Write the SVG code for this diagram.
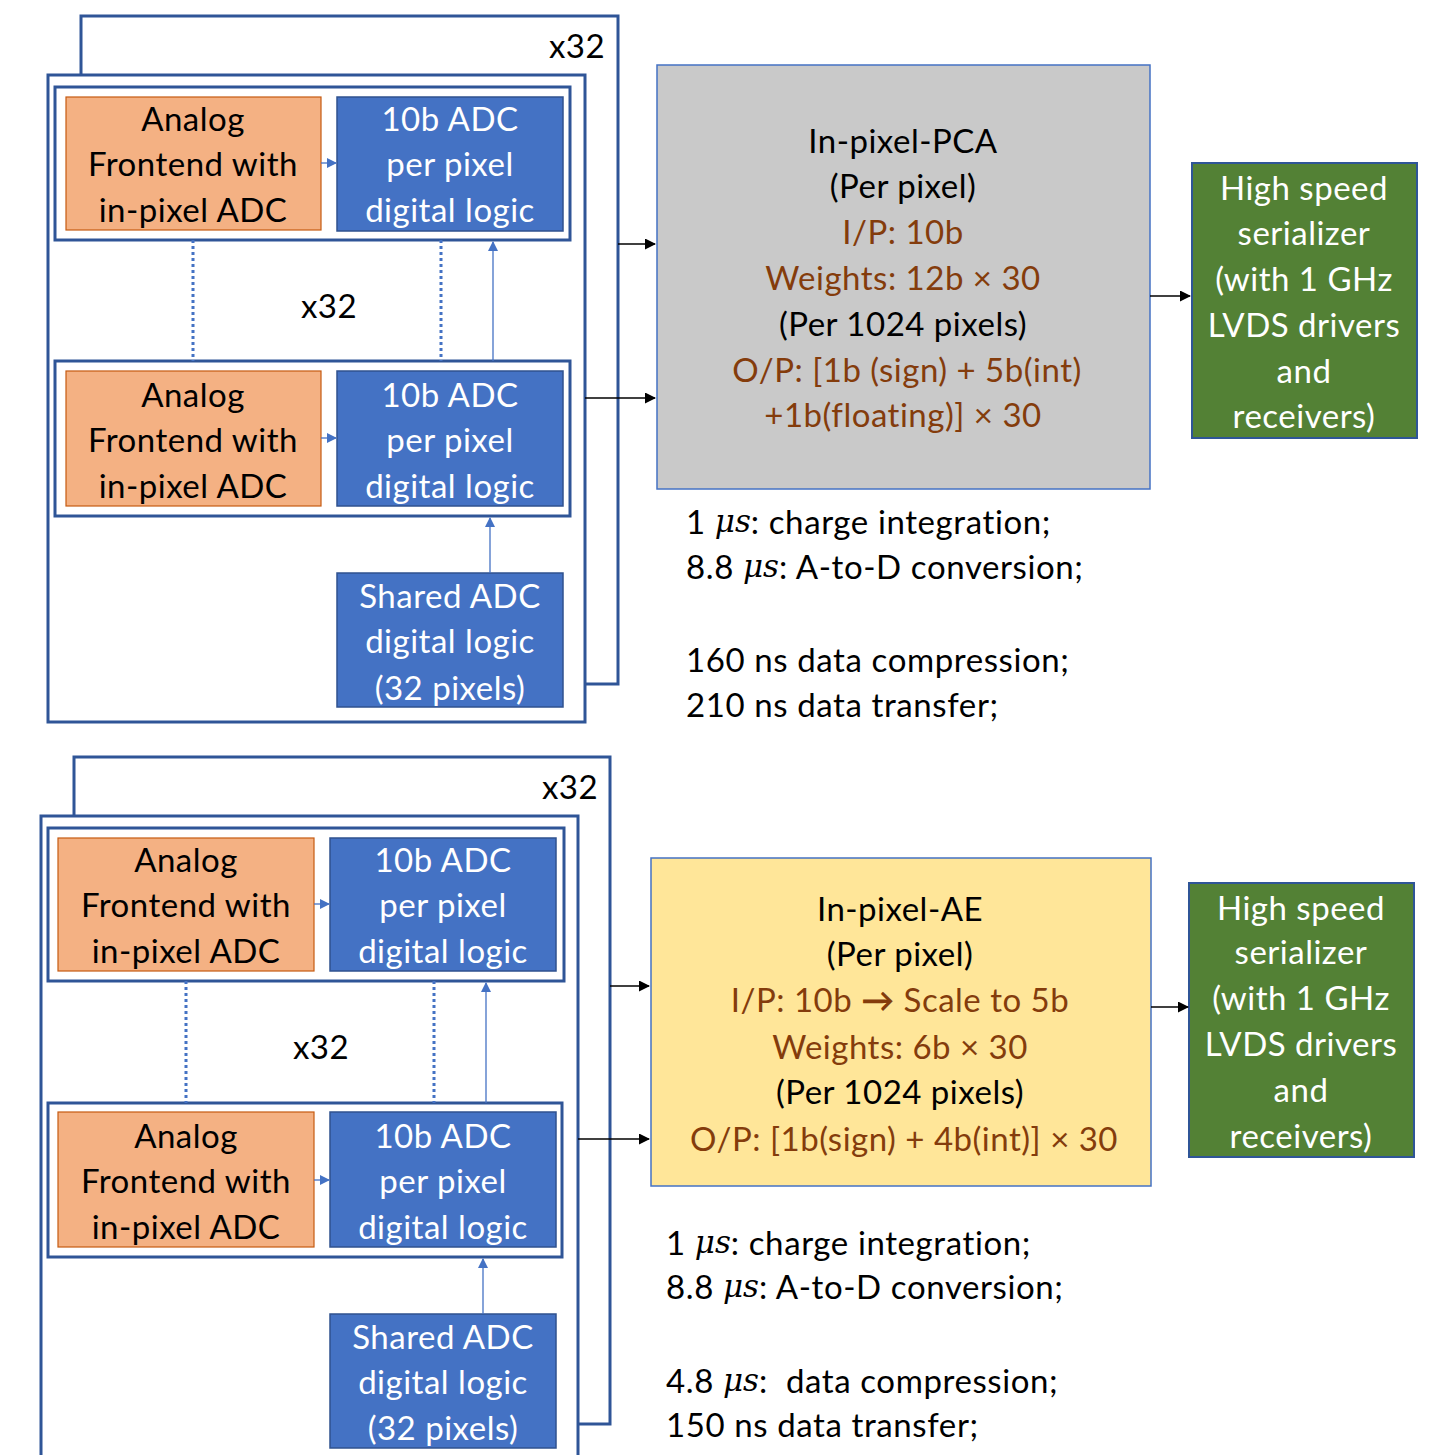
<svg xmlns="http://www.w3.org/2000/svg" width="1435" height="1455" viewBox="0 0 1435 1455">
  <defs>
    <style>
      text { font-family: Lato, "Open Sans", "Liberation Sans", sans-serif; font-size: 33px; letter-spacing: 0.5px; text-anchor: middle; dominant-baseline: central; }
      .frame { fill: #ffffff; stroke: #2f5597; stroke-width: 3; }
      .afe { fill: #f4b183; stroke: #c55a11; stroke-width: 1.2; }
      .dig { fill: #4472c4; stroke: #2f528f; stroke-width: 1.5; }
      .pca { fill: #c9c9c9; stroke: #4472c4; stroke-width: 1.5; }
      .ae { fill: #ffe699; stroke: #4472c4; stroke-width: 1.5; }
      .ser { fill: #538135; stroke: #2f5597; stroke-width: 2; }
      .dark { fill: #000000; }
      .light { fill: #ffffff; }
      .brown { fill: #843c0c; }
      .note { text-anchor: start; fill: #000000; letter-spacing: 0.6px; }
      .mu { font-family: "DejaVu Serif", "Liberation Serif", serif; font-style: italic; font-size: 31px; letter-spacing: 0; }
      .blk { stroke: #000000; stroke-width: 1.5; fill: none; }
      .blu { stroke: #4472c4; stroke-width: 1.3; fill: none; }
      .dot { stroke: #4472c4; stroke-width: 3; stroke-dasharray: 3 3; fill: none; }
    </style>
    <marker id="ahBlack" markerWidth="11" markerHeight="11" refX="10" refY="5.5" orient="auto" markerUnits="userSpaceOnUse">
      <path d="M0,0 L11,5.5 L0,11 z" fill="#000000"/>
    </marker>
    <marker id="ahBlue" markerWidth="10" markerHeight="10" refX="9" refY="5" orient="auto" markerUnits="userSpaceOnUse">
      <path d="M0,0 L10,5 L0,10 z" fill="#4472c4"/>
    </marker>
  </defs>

  <!-- ===== Upper design: PCA ===== -->
  <g id="pca-array-back">
    <rect class="frame" x="81" y="16" width="537" height="668"/>
    <text class="dark" x="577" y="45">x32</text>
  </g>
  <g id="pca-array-front">
    <rect class="frame" x="48" y="75" width="537" height="647"/>
    <text class="dark" x="329" y="305">x32</text>
  </g>
  <g id="pca-pixel-1">
    <rect class="frame" x="55" y="87" width="515" height="153"/>
  </g>
  <g id="pca-afe-1">
    <rect class="afe" x="66" y="97" width="255" height="133"/>
    <text class="dark" x="193" y="118">Analog</text>
    <text class="dark" x="193" y="163">Frontend with</text>
    <text class="dark" x="193" y="209">in-pixel ADC</text>
  </g>
  <g id="pca-dig-1">
    <rect class="dig" x="337" y="97" width="226" height="134"/>
    <text class="light" x="450" y="118">10b ADC</text>
    <text class="light" x="450" y="163">per pixel</text>
    <text class="light" x="450" y="209">digital logic</text>
  </g>
  <g id="pca-pixel-2">
    <rect class="frame" x="55" y="361" width="515" height="155"/>
  </g>
  <g id="pca-afe-2">
    <rect class="afe" x="66" y="371" width="255" height="135"/>
    <text class="dark" x="193" y="394">Analog</text>
    <text class="dark" x="193" y="439">Frontend with</text>
    <text class="dark" x="193" y="485">in-pixel ADC</text>
  </g>
  <g id="pca-dig-2">
    <rect class="dig" x="337" y="371" width="226" height="135"/>
    <text class="light" x="450" y="394">10b ADC</text>
    <text class="light" x="450" y="439">per pixel</text>
    <text class="light" x="450" y="485">digital logic</text>
  </g>
  <g id="pca-shared">
    <rect class="dig" x="337" y="573" width="226" height="134"/>
    <text class="light" x="450" y="595">Shared ADC</text>
    <text class="light" x="450" y="640">digital logic</text>
    <text class="light" x="450" y="687">(32 pixels)</text>
  </g>
  <g id="pca-core">
    <rect class="pca" x="657" y="65" width="493" height="424"/>
    <text class="dark" x="903" y="140">In-pixel-PCA</text>
    <text class="dark" x="903" y="185">(Per pixel)</text>
    <text class="brown" x="903" y="231">I/P: 10b</text>
    <text class="brown" x="903" y="277">Weights: 12b × 30</text>
    <text class="dark" x="903" y="323">(Per 1024 pixels)</text>
    <text class="brown" x="907" y="369">O/P: [1b (sign) + 5b(int)</text>
    <text class="brown" x="903" y="414">+1b(floating)] × 30</text>
  </g>
  <g id="pca-serializer">
    <rect class="ser" x="1192" y="163" width="225" height="275"/>
    <text class="light" x="1304" y="187">High speed</text>
    <text class="light" x="1304" y="232">serializer</text>
    <text class="light" x="1304" y="278">(with 1 GHz</text>
    <text class="light" x="1304" y="324">LVDS drivers</text>
    <text class="light" x="1304" y="370">and</text>
    <text class="light" x="1304" y="415">receivers)</text>
  </g>
  <g id="pca-timing">
    <text class="note" x="686" y="521">1 <tspan class="mu">μs</tspan>: charge integration;</text>
    <text class="note" x="686" y="566">8.8 <tspan class="mu">μs</tspan>: A-to-D conversion;</text>
    <text class="note" x="686" y="659">160 ns data compression;</text>
    <text class="note" x="686" y="704">210 ns data transfer;</text>
  </g>

  <!-- ===== Lower design: AE ===== -->
  <g id="ae-array-back">
    <rect class="frame" x="74" y="757" width="536" height="667"/>
    <text class="dark" x="570" y="786">x32</text>
  </g>
  <g id="ae-array-front">
    <rect class="frame" x="41" y="816" width="537" height="700"/>
    <text class="dark" x="321" y="1046">x32</text>
  </g>
  <g id="ae-pixel-1">
    <rect class="frame" x="48" y="828" width="516" height="153"/>
  </g>
  <g id="ae-afe-1">
    <rect class="afe" x="58" y="838" width="256" height="133"/>
    <text class="dark" x="186" y="859">Analog</text>
    <text class="dark" x="186" y="904">Frontend with</text>
    <text class="dark" x="186" y="950">in-pixel ADC</text>
  </g>
  <g id="ae-dig-1">
    <rect class="dig" x="330" y="838" width="226" height="133"/>
    <text class="light" x="443" y="859">10b ADC</text>
    <text class="light" x="443" y="904">per pixel</text>
    <text class="light" x="443" y="950">digital logic</text>
  </g>
  <g id="ae-pixel-2">
    <rect class="frame" x="48" y="1103" width="514" height="154"/>
  </g>
  <g id="ae-afe-2">
    <rect class="afe" x="58" y="1112" width="256" height="135"/>
    <text class="dark" x="186" y="1135">Analog</text>
    <text class="dark" x="186" y="1180">Frontend with</text>
    <text class="dark" x="186" y="1226">in-pixel ADC</text>
  </g>
  <g id="ae-dig-2">
    <rect class="dig" x="330" y="1112" width="226" height="135"/>
    <text class="light" x="443" y="1135">10b ADC</text>
    <text class="light" x="443" y="1180">per pixel</text>
    <text class="light" x="443" y="1226">digital logic</text>
  </g>
  <g id="ae-shared">
    <rect class="dig" x="330" y="1314" width="226" height="134"/>
    <text class="light" x="443" y="1336">Shared ADC</text>
    <text class="light" x="443" y="1381">digital logic</text>
    <text class="light" x="443" y="1427">(32 pixels)</text>
  </g>
  <g id="ae-core">
    <rect class="ae" x="651" y="858" width="500" height="328"/>
    <text class="dark" x="900" y="908">In-pixel-AE</text>
    <text class="dark" x="900" y="953">(Per pixel)</text>
    <text class="brown" x="900" y="999">I/P: 10b <tspan font-weight="bold">→</tspan> Scale to 5b</text>
    <text class="brown" x="900" y="1046">Weights: 6b × 30</text>
    <text class="dark" x="900" y="1091">(Per 1024 pixels)</text>
    <text class="brown" x="904" y="1138">O/P: [1b(sign) + 4b(int)] × 30</text>
  </g>
  <g id="ae-serializer">
    <rect class="ser" x="1189" y="883" width="225" height="274"/>
    <text class="light" x="1301" y="907">High speed</text>
    <text class="light" x="1301" y="951">serializer</text>
    <text class="light" x="1301" y="997">(with 1 GHz</text>
    <text class="light" x="1301" y="1043">LVDS drivers</text>
    <text class="light" x="1301" y="1089">and</text>
    <text class="light" x="1301" y="1135">receivers)</text>
  </g>
  <g id="ae-timing">
    <text class="note" x="666" y="1242">1 <tspan class="mu">μs</tspan>: charge integration;</text>
    <text class="note" x="666" y="1286">8.8 <tspan class="mu">μs</tspan>: A-to-D conversion;</text>
    <text class="note" x="666" y="1380">4.8 <tspan class="mu">μs</tspan>:&#160; data compression;</text>
    <text class="note" x="666" y="1424">150 ns data transfer;</text>
  </g>

  <!-- ===== Connectors ===== -->
  <g id="connectors">
    <!-- upper design -->
    <line class="blu" x1="321" y1="163" x2="336" y2="163" marker-end="url(#ahBlue)"/>
    <line class="blu" x1="321" y1="438" x2="336" y2="438" marker-end="url(#ahBlue)"/>
    <line class="dot" x1="193" y1="240" x2="193" y2="361"/>
    <line class="dot" x1="441" y1="240" x2="441" y2="361"/>
    <line class="blu" x1="493" y1="361" x2="493" y2="242" marker-end="url(#ahBlue)"/>
    <line class="blu" x1="490" y1="573" x2="490" y2="518" marker-end="url(#ahBlue)"/>
    <line class="blk" x1="618" y1="244" x2="655" y2="244" marker-end="url(#ahBlack)"/>
    <line class="blk" x1="585" y1="398" x2="655" y2="398" marker-end="url(#ahBlack)"/>
    <line class="blk" x1="1150" y1="296" x2="1190" y2="296" marker-end="url(#ahBlack)"/>
    <!-- lower design -->
    <line class="blu" x1="314" y1="904" x2="329" y2="904" marker-end="url(#ahBlue)"/>
    <line class="blu" x1="314" y1="1180" x2="329" y2="1180" marker-end="url(#ahBlue)"/>
    <line class="dot" x1="186" y1="981" x2="186" y2="1103"/>
    <line class="dot" x1="434" y1="981" x2="434" y2="1103"/>
    <line class="blu" x1="486" y1="1103" x2="486" y2="983" marker-end="url(#ahBlue)"/>
    <line class="blu" x1="483" y1="1314" x2="483" y2="1259" marker-end="url(#ahBlue)"/>
    <line class="blk" x1="610" y1="986" x2="649" y2="986" marker-end="url(#ahBlack)"/>
    <line class="blk" x1="578" y1="1139" x2="649" y2="1139" marker-end="url(#ahBlack)"/>
    <line class="blk" x1="1151" y1="1007" x2="1188" y2="1007" marker-end="url(#ahBlack)"/>
  </g>
</svg>
